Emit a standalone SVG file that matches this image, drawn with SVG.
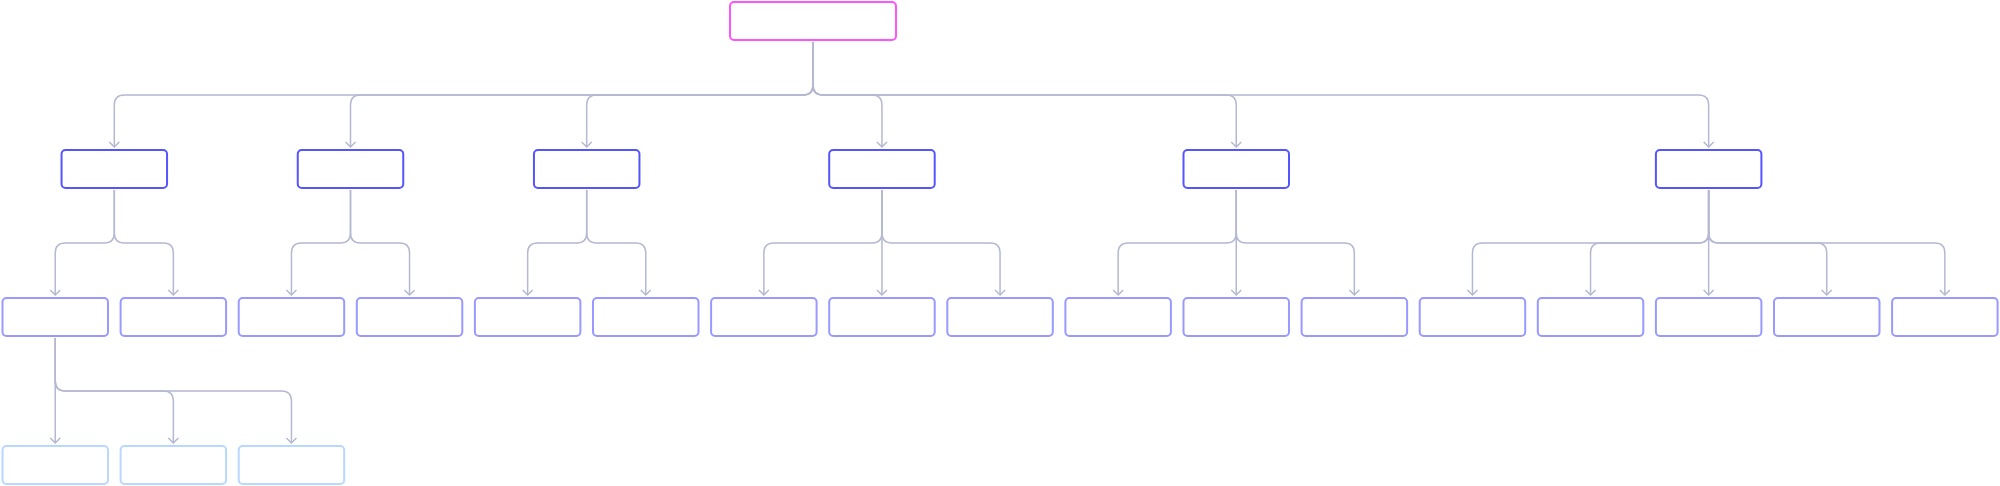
<svg xmlns="http://www.w3.org/2000/svg" width="2000" height="486" viewBox="0 0 2000 486">
<defs>
<style>
.n rect{fill:#ffffff;stroke-width:2}
.root rect{stroke:#ff55ff}
.l1 rect{stroke:#5555ff}
.l2 rect{stroke:#9999ff}
.l3 rect{stroke:#b8d8ff}
.c path{fill:none;stroke:#b4b8d2;stroke-width:1.5;marker-end:url(#ah)}
</style>
<marker id="ah" viewBox="-1 -1 12 12" refX="5" refY="5" markerWidth="12" markerHeight="12" markerUnits="userSpaceOnUse" orient="auto" overflow="visible">
<path d="M0,0 L5,5 L0,10" fill="none" stroke="#b4b8d2" stroke-width="1.5"/>
</marker>
</defs>
<rect width="2000" height="486" fill="#ffffff"/>
<g id="connectors" class="c">
<path d="M813,42 V85 Q813,95 803,95 H124.3 Q114.3,95 114.3,105 V147"/>
<path d="M813,42 V85 Q813,95 803,95 H360.5 Q350.5,95 350.5,105 V147"/>
<path d="M813,42 V85 Q813,95 803,95 H596.7 Q586.7,95 586.7,105 V147"/>
<path d="M813,42 V85 Q813,95 823,95 H871.95 Q881.95,95 881.95,105 V147"/>
<path d="M813,42 V85 Q813,95 823,95 H1226.25 Q1236.25,95 1236.25,105 V147"/>
<path d="M813,42 V85 Q813,95 823,95 H1698.65 Q1708.65,95 1708.65,105 V147"/>
<path d="M114.3,190 V233 Q114.3,243 104.3,243 H65.25 Q55.25,243 55.25,253 V295"/>
<path d="M114.3,190 V233 Q114.3,243 124.3,243 H163.35 Q173.35,243 173.35,253 V295"/>
<path d="M350.5,190 V233 Q350.5,243 340.5,243 H301.45 Q291.45,243 291.45,253 V295"/>
<path d="M350.5,190 V233 Q350.5,243 360.5,243 H399.55 Q409.55,243 409.55,253 V295"/>
<path d="M586.7,190 V233 Q586.7,243 576.7,243 H537.65 Q527.65,243 527.65,253 V295"/>
<path d="M586.7,190 V233 Q586.7,243 596.7,243 H635.75 Q645.75,243 645.75,253 V295"/>
<path d="M881.95,190 V233 Q881.95,243 871.95,243 H773.85 Q763.85,243 763.85,253 V295"/>
<path d="M881.95,190 V295"/>
<path d="M881.95,190 V233 Q881.95,243 891.95,243 H990.05 Q1000.05,243 1000.05,253 V295"/>
<path d="M1236.25,190 V233 Q1236.25,243 1226.25,243 H1128.15 Q1118.15,243 1118.15,253 V295"/>
<path d="M1236.25,190 V295"/>
<path d="M1236.25,190 V233 Q1236.25,243 1246.25,243 H1344.35 Q1354.35,243 1354.35,253 V295"/>
<path d="M1708.65,190 V233 Q1708.65,243 1698.65,243 H1482.45 Q1472.45,243 1472.45,253 V295"/>
<path d="M1708.65,190 V233 Q1708.65,243 1698.65,243 H1600.55 Q1590.55,243 1590.55,253 V295"/>
<path d="M1708.65,190 V295"/>
<path d="M1708.65,190 V233 Q1708.65,243 1718.65,243 H1816.75 Q1826.75,243 1826.75,253 V295"/>
<path d="M1708.65,190 V233 Q1708.65,243 1718.65,243 H1934.85 Q1944.85,243 1944.85,253 V295"/>
<path d="M55.25,338 V443"/>
<path d="M55.25,338 V381 Q55.25,391 65.25,391 H163.35 Q173.35,391 173.35,401 V443"/>
<path d="M55.25,338 V381 Q55.25,391 65.25,391 H281.45 Q291.45,391 291.45,401 V443"/>
</g>
<g id="root" class="n root"><rect x="730" y="2" width="166" height="38" rx="4"/></g>
<g id="a" class="n l1"><rect x="61.55" y="150" width="105.5" height="38" rx="4"/></g>
<g id="b" class="n l1"><rect x="297.75" y="150" width="105.5" height="38" rx="4"/></g>
<g id="c" class="n l1"><rect x="533.95" y="150" width="105.5" height="38" rx="4"/></g>
<g id="d" class="n l1"><rect x="829.2" y="150" width="105.5" height="38" rx="4"/></g>
<g id="e" class="n l1"><rect x="1183.5" y="150" width="105.5" height="38" rx="4"/></g>
<g id="f" class="n l1"><rect x="1655.9" y="150" width="105.5" height="38" rx="4"/></g>
<g id="a1" class="n l2"><rect x="2.5" y="298" width="105.5" height="38" rx="4"/></g>
<g id="a2" class="n l2"><rect x="120.6" y="298" width="105.5" height="38" rx="4"/></g>
<g id="b1" class="n l2"><rect x="238.7" y="298" width="105.5" height="38" rx="4"/></g>
<g id="b2" class="n l2"><rect x="356.8" y="298" width="105.5" height="38" rx="4"/></g>
<g id="c1" class="n l2"><rect x="474.9" y="298" width="105.5" height="38" rx="4"/></g>
<g id="c2" class="n l2"><rect x="593" y="298" width="105.5" height="38" rx="4"/></g>
<g id="d1" class="n l2"><rect x="711.1" y="298" width="105.5" height="38" rx="4"/></g>
<g id="d2" class="n l2"><rect x="829.2" y="298" width="105.5" height="38" rx="4"/></g>
<g id="d3" class="n l2"><rect x="947.3" y="298" width="105.5" height="38" rx="4"/></g>
<g id="e1" class="n l2"><rect x="1065.4" y="298" width="105.5" height="38" rx="4"/></g>
<g id="e2" class="n l2"><rect x="1183.5" y="298" width="105.5" height="38" rx="4"/></g>
<g id="e3" class="n l2"><rect x="1301.6" y="298" width="105.5" height="38" rx="4"/></g>
<g id="f1" class="n l2"><rect x="1419.7" y="298" width="105.5" height="38" rx="4"/></g>
<g id="f2" class="n l2"><rect x="1537.8" y="298" width="105.5" height="38" rx="4"/></g>
<g id="f3" class="n l2"><rect x="1655.9" y="298" width="105.5" height="38" rx="4"/></g>
<g id="f4" class="n l2"><rect x="1774" y="298" width="105.5" height="38" rx="4"/></g>
<g id="f5" class="n l2"><rect x="1892.1" y="298" width="105.5" height="38" rx="4"/></g>
<g id="a1a" class="n l3"><rect x="2.5" y="446" width="105.5" height="38" rx="4"/></g>
<g id="a1b" class="n l3"><rect x="120.6" y="446" width="105.5" height="38" rx="4"/></g>
<g id="a1c" class="n l3"><rect x="238.7" y="446" width="105.5" height="38" rx="4"/></g>
</svg>
